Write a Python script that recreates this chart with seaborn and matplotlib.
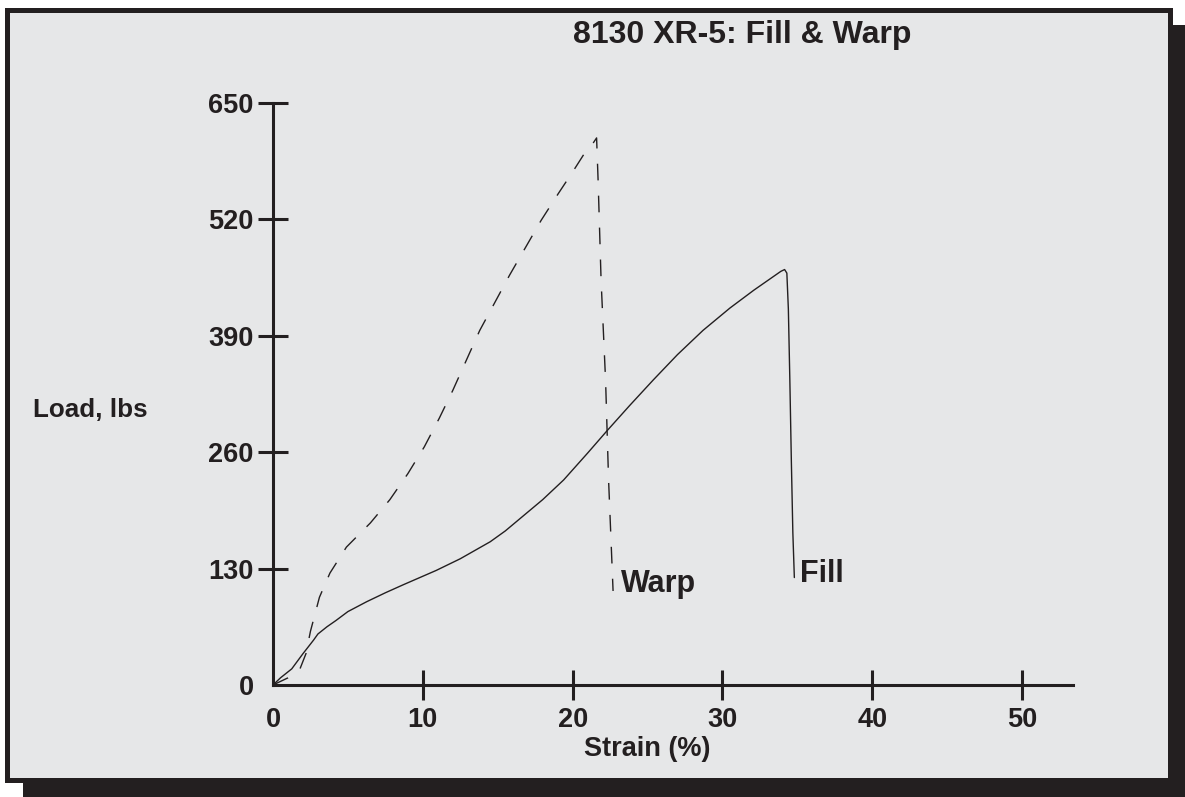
"""
Curva carga-deformación 8130 XR-5 (trama y urdimbre).
"""
import numpy as np
import pandas as pd
import matplotlib
matplotlib.use("Agg")
import matplotlib.pyplot as plt
from matplotlib.patches import Rectangle
import seaborn as sns

# Datos
fill_strain = [0, 0.5, 1.25, 2.0, 2.7, 3.0, 3.6, 4.2, 5.0, 6.25, 7.5, 8.7,
               9.8, 10.9, 12.5, 14.5, 15.5, 17.0, 18.0, 19.4, 21.0, 22.3,
               23.8, 25.4, 27.0, 28.7, 30.5, 32.1, 33.3, 33.9, 34.15, 34.3,
               34.4, 34.5, 34.6, 34.7, 34.8]
fill_load = [0, 8, 18, 35, 50, 57, 65, 72, 82, 93, 103, 112, 120, 128, 141,
             160, 172, 193, 207, 229, 259, 284, 312, 341, 369, 396, 421, 441,
             455, 462, 464, 460, 420, 340, 250, 170, 120]

warp_strain = [0, 1.0, 1.8, 2.2, 2.5, 3.1, 3.8, 4.9, 6.5, 7.8, 9.0, 10.1,
               11.1, 12.0, 13.8, 15.8, 17.9, 19.05, 20.0, 20.8, 21.4, 21.6,
               21.7, 21.9, 22.2, 22.4, 22.7]
warp_load = [0, 8, 18, 35, 60, 98, 125, 154, 181, 207, 236, 266, 298, 329,
             396, 458, 519, 549, 573, 594, 606, 611, 564, 452, 340, 229, 105]

x_ticks = [0, 10, 20, 30, 40, 50]
y_ticks = [0, 130, 260, 390, 520, 650]

color_tinta = "#231f20"
color_fondo = "#e6e7e8"

sns.set_style("ticks")
plt.rcParams["font.family"] = ["Liberation Sans", "DejaVu Sans"]
plt.rcParams["font.weight"] = "bold"

datos = pd.concat([
    pd.DataFrame({"Strain": fill_strain, "Load": fill_load, "Serie": "Fill"}),
    pd.DataFrame({"Strain": warp_strain, "Load": warp_load, "Serie": "Warp"}),
], ignore_index=True)

fig = plt.figure(figsize=(11.85, 7.97), dpi=100)
fig.patch.set_facecolor("white")

# Sombra y marco
W, H = 1185, 797
fig.patches.append(Rectangle((23 / W, 0), (W - 23) / W, (H - 25) / H,
                             transform=fig.transFigure, facecolor=color_tinta,
                             edgecolor="none", zorder=-3))
fig.patches.append(Rectangle((6.5 / W, (H - 779.5) / H), (1169.5 - 6.5) / W,
                             (779.5 - 9.5) / H, transform=fig.transFigure,
                             facecolor=color_fondo, edgecolor=color_tinta,
                             linewidth=3.6, zorder=-2))

ax = fig.add_axes([273 / W, (H - 685) / H, 800 / W, 582 / H])
ax.set_facecolor("none")

sns.lineplot(data=datos, x="Strain", y="Load", style="Serie",
             dashes={"Fill": "", "Warp": (12, 11)}, color=color_tinta,
             linewidth=1.0, sort=False, estimator=None, legend=False, ax=ax)

ax.set_xlim(0, 53.4)
ax.set_ylim(0, 650)
ax.set_xticks(x_ticks)
ax.set_yticks(y_ticks)
ax.tick_params(direction="inout", length=22, width=2.2, color=color_tinta,
               labelsize=19.5, labelcolor=color_tinta)
ax.tick_params(axis="y", pad=3)
ax.tick_params(axis="x", pad=5)
ax.xaxis.get_major_ticks()[0].tick1line.set_visible(False)
ax.yaxis.get_major_ticks()[0].tick1line.set_visible(False)
for lab in ax.get_xticklabels() + ax.get_yticklabels():
    lab.set_fontweight("bold")

for lado in ["top", "right"]:
    ax.spines[lado].set_visible(False)
for lado in ["left", "bottom"]:
    ax.spines[lado].set_linewidth(2.2)
    ax.spines[lado].set_color(color_tinta)

ax.set_xlabel("")
ax.set_ylabel("")
ax.text(25, -71, "Strain (%)", ha="center", va="center", fontsize=19.5,
        fontweight="bold", color=color_tinta, clip_on=False)
fig.text(33 / W, (H - 410) / H, "Load, lbs", ha="left", va="center",
         fontsize=18.7, fontweight="bold", color=color_tinta)
fig.text(742 / W, (H - 35) / H, "8130 XR-5: Fill & Warp", ha="center",
         va="center", fontsize=23, fontweight="bold", color=color_tinta)

ax.text(23.2, 113, "Warp", ha="left", va="center", fontsize=22,
        fontweight="bold", color=color_tinta)
ax.text(35.2, 124, "Fill", ha="left", va="center", fontsize=22,
        fontweight="bold", color=color_tinta)

fig.savefig("out.png", dpi=100)
plt.close(fig)
